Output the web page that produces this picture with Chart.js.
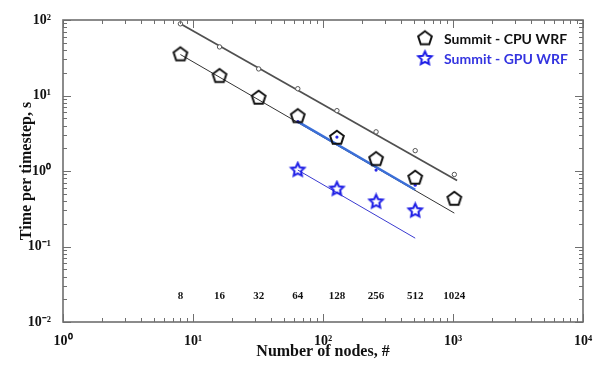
<!DOCTYPE html>
<html>
<head>
<meta charset="utf-8">
<script src="https://cdn.jsdelivr.net/npm/chart.js@4"></script>
<style>
  html, body { margin: 0; padding: 0; background: #fff; }
  #wrap { width: 600px; height: 368px; }
</style>
</head>
<body>
<div id="wrap"><canvas id="chart"></canvas></div>
<script>
const nodes = [8, 16, 32, 64, 128, 256, 512, 1024];
const cpuTime = [34.9, 18.0, 9.3, 5.3, 2.74, 1.43, 0.81, 0.425];
const refTime = [89, 44, 22.5, 12.3, 6.3, 3.3, 1.86, 0.90];
const gpuNodes = [64, 128, 256, 512];
const gpuTime = [1.03, 0.577, 0.39, 0.297];
const gpuDots = [4.5, 2.81, 1.03, 0.65];

// 이상적 스케일링 선 (양 끝점)
const refLineX = [8, 1075];
const refLineY = [89, 0.75];
const cpuLineX = [8, 1024];
const cpuLineY = [34.9, 0.277];
const dotLineX = [64, 512];
const dotLineY = [4.5, 0.565];
const gpuLineX = [64, 512];
const gpuLineY = [1.03, 0.129];

// 아래쪽 노드 수 글자
const nodeLabels = ["8", "16", "32", "64", "128", "256", "512", "1024"];
const nodeLabelLevel = 0.022;

const SERIF = "'Liberation Serif', 'Times New Roman', serif";
const sup = {"0": "⁰", "1": "¹", "2": "²", "3": "³", "4": "⁴", "-": "⁻"};

function points(xs, ys) {
    return xs.map((x, i) => ({x: x, y: ys[i]}));
}

// 오각형, 별 모양 마커를 캔버스로 만들기
function makeMarker(kind, color, r) {
    const c = document.createElement("canvas");
    c.width = c.height = Math.ceil(2 * r + 5);
    const g = c.getContext("2d");
    const cx = c.width / 2, cy = c.height / 2;
    const n = kind === "star" ? 10 : 5;
    g.beginPath();
    for (let i = 0; i < n; i++) {
        const ang = -Math.PI / 2 + i * 2 * Math.PI / n;
        const rr = (kind === "star" && i % 2) ? r * 0.48 : r;
        const px = cx + rr * Math.cos(ang), py = cy + rr * Math.sin(ang);
        if (i === 0) g.moveTo(px, py); else g.lineTo(px, py);
    }
    g.closePath();
    g.strokeStyle = color;
    g.lineWidth = 2;
    g.lineJoin = "miter";
    g.stroke();
    return c;
}

const pentagon = makeMarker("pentagon", "#111", 7.2);
const star = makeMarker("star", "#1f1fe6", 7);

function isMajor(v) {
    const l = Math.log10(v);
    return Math.abs(l - Math.round(l)) < 1e-9;
}

function logTicks(lo, hi) {
    const out = [];
    for (let e = lo; e < hi; e++) {
        for (let s = 1; s < 10; s++) out.push({value: s * Math.pow(10, e)});
    }
    out.push({value: Math.pow(10, hi)});
    return out;
}

function powerLabel(v) {
    if (!isMajor(v)) return "";
    const e = String(Math.round(Math.log10(v)));
    return "10" + e.split("").map(ch => sup[ch]).join("");
}

// 틀, 안쪽 눈금, 노드 수 글자, 범례
const decor = {
    id: "decor",
    afterDraw(chart) {
        const {ctx, chartArea: a, scales: {x, y}} = chart;
        ctx.save();
        ctx.strokeStyle = "#6f6f6f";
        ctx.lineWidth = 1;
        ctx.beginPath();
        x.ticks.forEach(t => {
            const px = Math.round(x.getPixelForValue(t.value)) + 0.5;
            const len = isMajor(t.value) ? 8 : 4;
            ctx.moveTo(px, a.bottom); ctx.lineTo(px, a.bottom - len);
            ctx.moveTo(px, a.top); ctx.lineTo(px, a.top + len);
        });
        y.ticks.forEach(t => {
            const py = Math.round(y.getPixelForValue(t.value)) + 0.5;
            const len = isMajor(t.value) ? 8 : 4;
            ctx.moveTo(a.left, py); ctx.lineTo(a.left + len, py);
            ctx.moveTo(a.right, py); ctx.lineTo(a.right - len, py);
        });
        ctx.stroke();
        ctx.lineWidth = 1.6;
        ctx.strokeRect(a.left, a.top, a.right - a.left, a.bottom - a.top);

        ctx.fillStyle = "#111";
        ctx.font = "bold 11px " + SERIF;
        ctx.textAlign = "center";
        ctx.textBaseline = "middle";
        const ly = y.getPixelForValue(nodeLabelLevel);
        nodes.forEach((n, i) => {
            ctx.fillText(nodeLabels[i], x.getPixelForValue(n), ly);
        });

        ctx.font = "bold 14px Lato, 'Open Sans', sans-serif";
        ctx.textAlign = "left";
        chart.data.datasets.filter(d => d.inLegend).forEach((d, i) => {
            const cy = 38.5 + i * 20;
            const mk = d.pointStyle;
            ctx.drawImage(mk, 425 - mk.width / 2, cy - mk.height / 2);
            ctx.fillStyle = d.legendColor;
            ctx.fillText(d.label, 444, cy + 1);
        });
        ctx.restore();
    }
};

new Chart(document.getElementById("chart"), {
    type: "scatter",
    data: {
        datasets: [
            {label: "Summit - CPU WRF", inLegend: true, legendColor: "#111",
             data: points(nodes, cpuTime), pointStyle: pentagon, pointRadius: 7, showLine: false},
            {label: "Summit - GPU WRF", inLegend: true, legendColor: "#3434e0",
             data: points(gpuNodes, gpuTime), pointStyle: star, pointRadius: 7, showLine: false},
            {label: "dots", data: points(gpuNodes, gpuDots), pointStyle: "circle", pointRadius: 1.6,
             backgroundColor: "#2a2ae6", borderColor: "#2a2ae6", borderWidth: 0, showLine: false},
            {label: "ref", data: points(nodes, refTime), pointStyle: "circle", pointRadius: 2.2,
             backgroundColor: "#fff", borderColor: "#555", borderWidth: 1, showLine: false},
            {label: "dot line", data: points(dotLineX, dotLineY), showLine: true, pointRadius: 0,
             borderColor: "#3b6fd8", borderWidth: 2.5},
            {label: "cpu line", data: points(cpuLineX, cpuLineY), showLine: true, pointRadius: 0,
             borderColor: "#333", borderWidth: 1},
            {label: "ref line", data: points(refLineX, refLineY), showLine: true, pointRadius: 0,
             borderColor: "#505050", borderWidth: 1.8},
            {label: "gpu line", data: points(gpuLineX, gpuLineY), showLine: true, pointRadius: 0,
             borderColor: "#3a3ad0", borderWidth: 1},
        ],
    },
    options: {
        responsive: true,
        maintainAspectRatio: false,
        animation: false,
        layout: {padding: {top: 20, right: 17, left: 0, bottom: 0}},
        plugins: {legend: {display: false}, tooltip: {enabled: false}},
        scales: {
            x: {
                type: "logarithmic", min: 1, max: 10000,
                afterBuildTicks: s => { s.ticks = logTicks(0, 4); },
                afterFit: s => { s.height = 46; s.paddingLeft = 0; s.paddingRight = 0; },
                grid: {display: false}, border: {display: false},
                ticks: {autoSkip: false, maxRotation: 0, padding: 3, color: "#111",
                        font: {family: SERIF, weight: "bold", size: 14}, callback: powerLabel},
                title: {display: true, text: "Number of nodes, #", color: "#111",
                        font: {family: SERIF, weight: "bold", size: 16}, padding: {top: 0, bottom: 7}},
            },
            y: {
                type: "logarithmic", min: 0.01, max: 100,
                afterBuildTicks: s => { s.ticks = logTicks(-2, 2); },
                afterFit: s => { s.width = 63; },
                grid: {display: false}, border: {display: false},
                ticks: {autoSkip: false, padding: 4, color: "#111",
                        font: {family: SERIF, weight: "bold", size: 14}, callback: powerLabel},
                title: {display: true, text: "Time per timestep, s", color: "#111",
                        font: {family: SERIF, weight: "bold", size: 16}, padding: {top: 17, bottom: 0}},
            },
        },
    },
    plugins: [decor],
});
</script>
</body>
</html>
